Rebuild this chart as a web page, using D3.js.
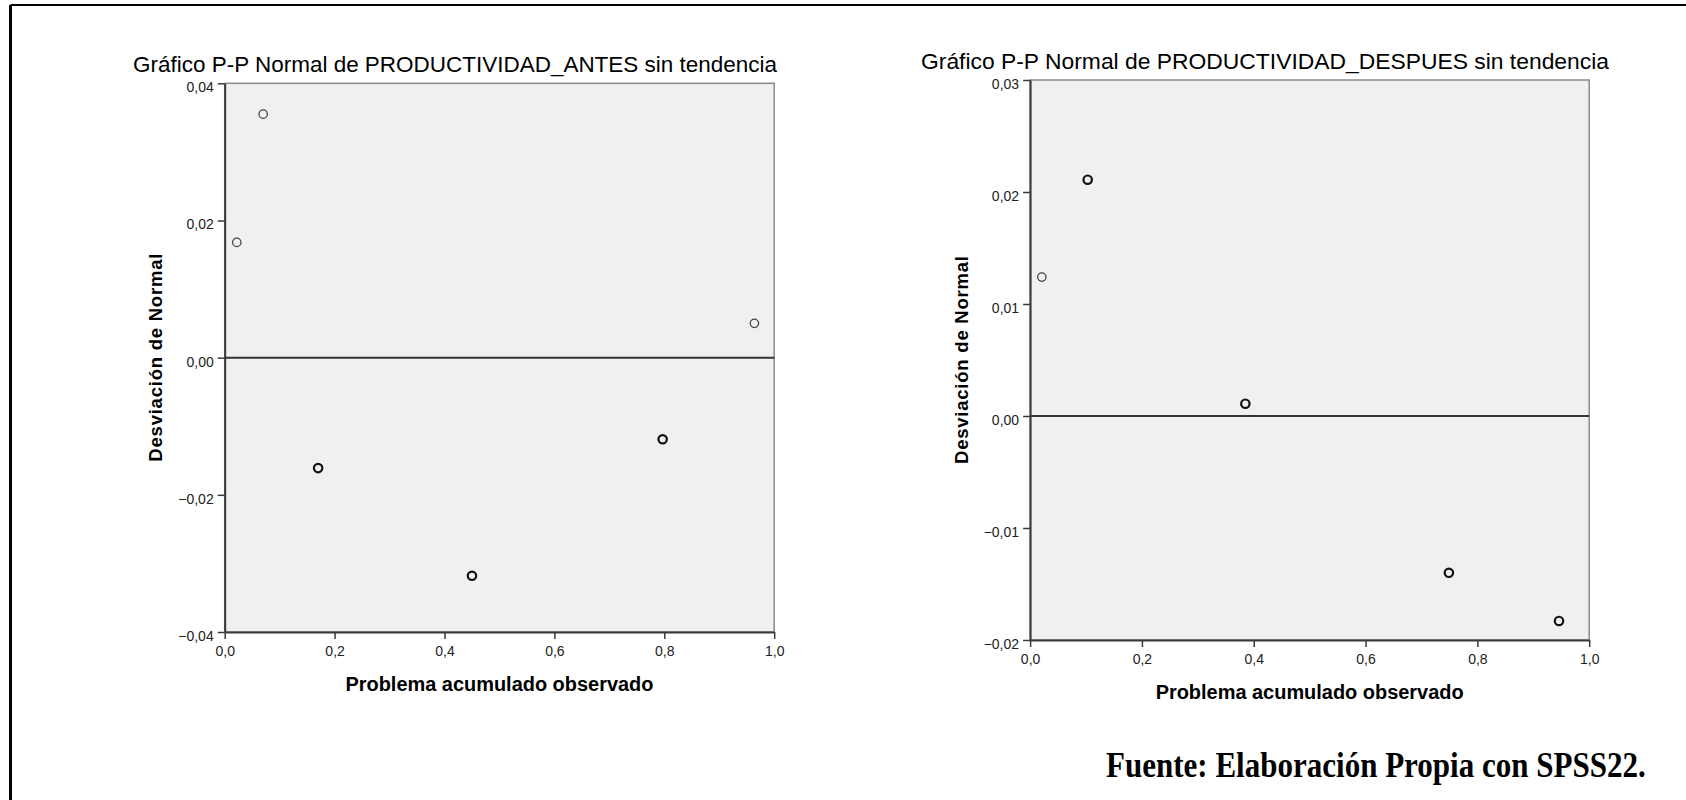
<!DOCTYPE html>
<html>
<head>
<meta charset="utf-8">
<script src="https://cdn.jsdelivr.net/npm/d3@7"></script>
<style>
  body { margin: 0; background: #fff; }
  text { font-family: Arial, "Liberation Sans", sans-serif; }
</style>
</head>
<body>
<div id="chart"></div>
<script>
var width = 1686,
    height = 800;

// detrended P-P plot, before
var antesX = [0.022, 0.070, 0.170, 0.450, 0.797, 0.964];
var antesY = [0.0168, 0.0355, -0.0161, -0.0318, -0.0119, 0.0050];
var antesN = [1, 1, 2, 2, 2, 1];   // overlapping cases -> darker ring
var antesTicks = [-0.04, -0.02, 0, 0.02, 0.04];

// detrended P-P plot, after
var despuesX = [0.021, 0.103, 0.385, 0.749, 0.946];
var despuesY = [0.0124, 0.0211, 0.0011, -0.0140, -0.0183];
var despuesN = [1, 2, 2, 2, 2];
var despuesTicks = [-0.02, -0.01, 0, 0.01, 0.02, 0.03];

var xTicks = [0, 0.2, 0.4, 0.6, 0.8, 1];

var titles = ["Gráfico P-P Normal de PRODUCTIVIDAD_ANTES sin tendencia",
              "Gráfico P-P Normal de PRODUCTIVIDAD_DESPUES sin tendencia"];
var xLabel = "Problema acumulado observado";
var yLabel = "Desviación de Normal";
var fuente = "Fuente: Elaboración Propia con SPSS22.";

// comma as decimal mark, like SPSS in Spanish
var es = d3.formatLocale({decimal: ",", thousands: ".", grouping: [3], currency: ["", " €"]});
var fmtX = es.format(".1f"),
    fmtY = es.format(".2f");

var svg = d3.select("#chart").append("svg")
    .attr("width", width)
    .attr("height", height);

// page frame (only top and left edges show)
svg.append("line").attr("x1", 10.5).attr("y1", 5).attr("x2", width).attr("y2", 5)
  .attr("stroke", "#000").attr("stroke-width", 2);
svg.append("line").attr("x1", 10.5).attr("y1", 5).attr("x2", 10.5).attr("y2", height)
  .attr("stroke", "#000").attr("stroke-width", 3);

var panels = [
  {left: 224.7, right: 774.2, top: 83.3, bottom: 632, title: titles[0], titleX: 455, titleW: 644,
   xs: antesX, ys: antesY, ns: antesN, ticks: antesTicks, yLab: 162},
  {left: 1030.1, right: 1589.2, top: 80, bottom: 640, title: titles[1], titleX: 1265, titleW: 688,
   xs: despuesX, ys: despuesY, ns: despuesN, ticks: despuesTicks, yLab: 968}
];

panels.forEach(function(p) {
  var x = d3.scaleLinear().domain([0, 1]).range([p.left, p.right]);
  var y = d3.scaleLinear().domain(d3.extent(p.ticks)).range([p.bottom, p.top]);
  var g = svg.append("g");

  g.append("rect")
    .attr("x", p.left).attr("y", p.top)
    .attr("width", p.right - p.left).attr("height", p.bottom - p.top)
    .attr("fill", "#f0f0f0")
    .attr("stroke", "#8a8a8a")
    .attr("stroke-width", 1.5);

  // reference line at 0
  g.append("line")
    .attr("x1", p.left).attr("x2", p.right)
    .attr("y1", y(0)).attr("y2", y(0))
    .attr("stroke", "#333").attr("stroke-width", 2);

  var yAxis = g.append("g")
    .attr("transform", "translate(" + p.left + ",0)")
    .call(d3.axisLeft(y).tickValues(p.ticks).tickSize(7).tickSizeOuter(0).tickPadding(4).tickFormat(fmtY));
  yAxis.select(".domain").attr("stroke", "#3a3a3a").attr("stroke-width", 2);
  yAxis.selectAll(".tick line").attr("stroke", "#3a3a3a").attr("stroke-width", 1.5);
  yAxis.selectAll(".tick text")
    .attr("dy", "0.6em")
    .attr("fill", "#222")
    .style("font-size", "14px")
    .style("font-family", "Arial, 'Liberation Sans', sans-serif");

  var xAxis = g.append("g")
    .attr("transform", "translate(0," + p.bottom + ")")
    .call(d3.axisBottom(x).tickValues(xTicks).tickSize(7).tickSizeOuter(0).tickPadding(7).tickFormat(fmtX));
  xAxis.select(".domain").attr("stroke", "#3a3a3a").attr("stroke-width", 2);
  xAxis.selectAll(".tick line").attr("stroke", "#3a3a3a").attr("stroke-width", 1.5);
  xAxis.selectAll(".tick text")
    .attr("fill", "#222")
    .style("font-size", "14px")
    .style("font-family", "Arial, 'Liberation Sans', sans-serif");

  g.append("text")
    .attr("x", p.titleX)
    .attr("y", p.top - 11)
    .attr("text-anchor", "middle")
    .attr("textLength", p.titleW)
    .attr("lengthAdjust", "spacingAndGlyphs")
    .style("font-size", "22px")
    .text(p.title);

  g.append("text")
    .attr("x", (p.left + p.right) / 2)
    .attr("y", p.bottom + 59)
    .attr("text-anchor", "middle")
    .attr("textLength", 308)
    .attr("lengthAdjust", "spacingAndGlyphs")
    .style("font-size", "20px")
    .style("font-weight", "bold")
    .text(xLabel);

  g.append("text")
    .attr("transform", "translate(" + p.yLab + "," + ((p.top + p.bottom) / 2) + ") rotate(-90)")
    .attr("text-anchor", "middle")
    .attr("textLength", 208)
    .attr("lengthAdjust", "spacing")
    .style("font-size", "18.5px")
    .style("font-weight", "bold")
    .text(yLabel);

  var pts = p.xs.map(function(v, i) { return {x: v, y: p.ys[i], n: p.ns[i]}; });
  g.selectAll("circle.pt").data(pts).enter().append("circle")
    .attr("class", "pt")
    .attr("cx", function(d) { return x(d.x); })
    .attr("cy", function(d) { return y(d.y); })
    .attr("r", 4.2)
    .attr("fill", "none")
    .attr("stroke", function(d) { return d.n > 1 ? "#111" : "#444"; })
    .attr("stroke-width", function(d) { return d.n > 1 ? 2.2 : 1.3; });
});

// source note, condensed Times bold: squeeze it with a horizontal scale
var src = svg.append("text")
  .attr("x", 0)
  .attr("y", 0)
  .style("font-family", "'Liberation Serif', 'Times New Roman', serif")
  .style("font-size", "36px")
  .style("font-weight", "bold")
  .text(fuente);
var natural = src.node().getComputedTextLength();
src.attr("transform", "translate(1106,776.5) scale(" + (540 / natural) + ",1)");
</script>
</body>
</html>
